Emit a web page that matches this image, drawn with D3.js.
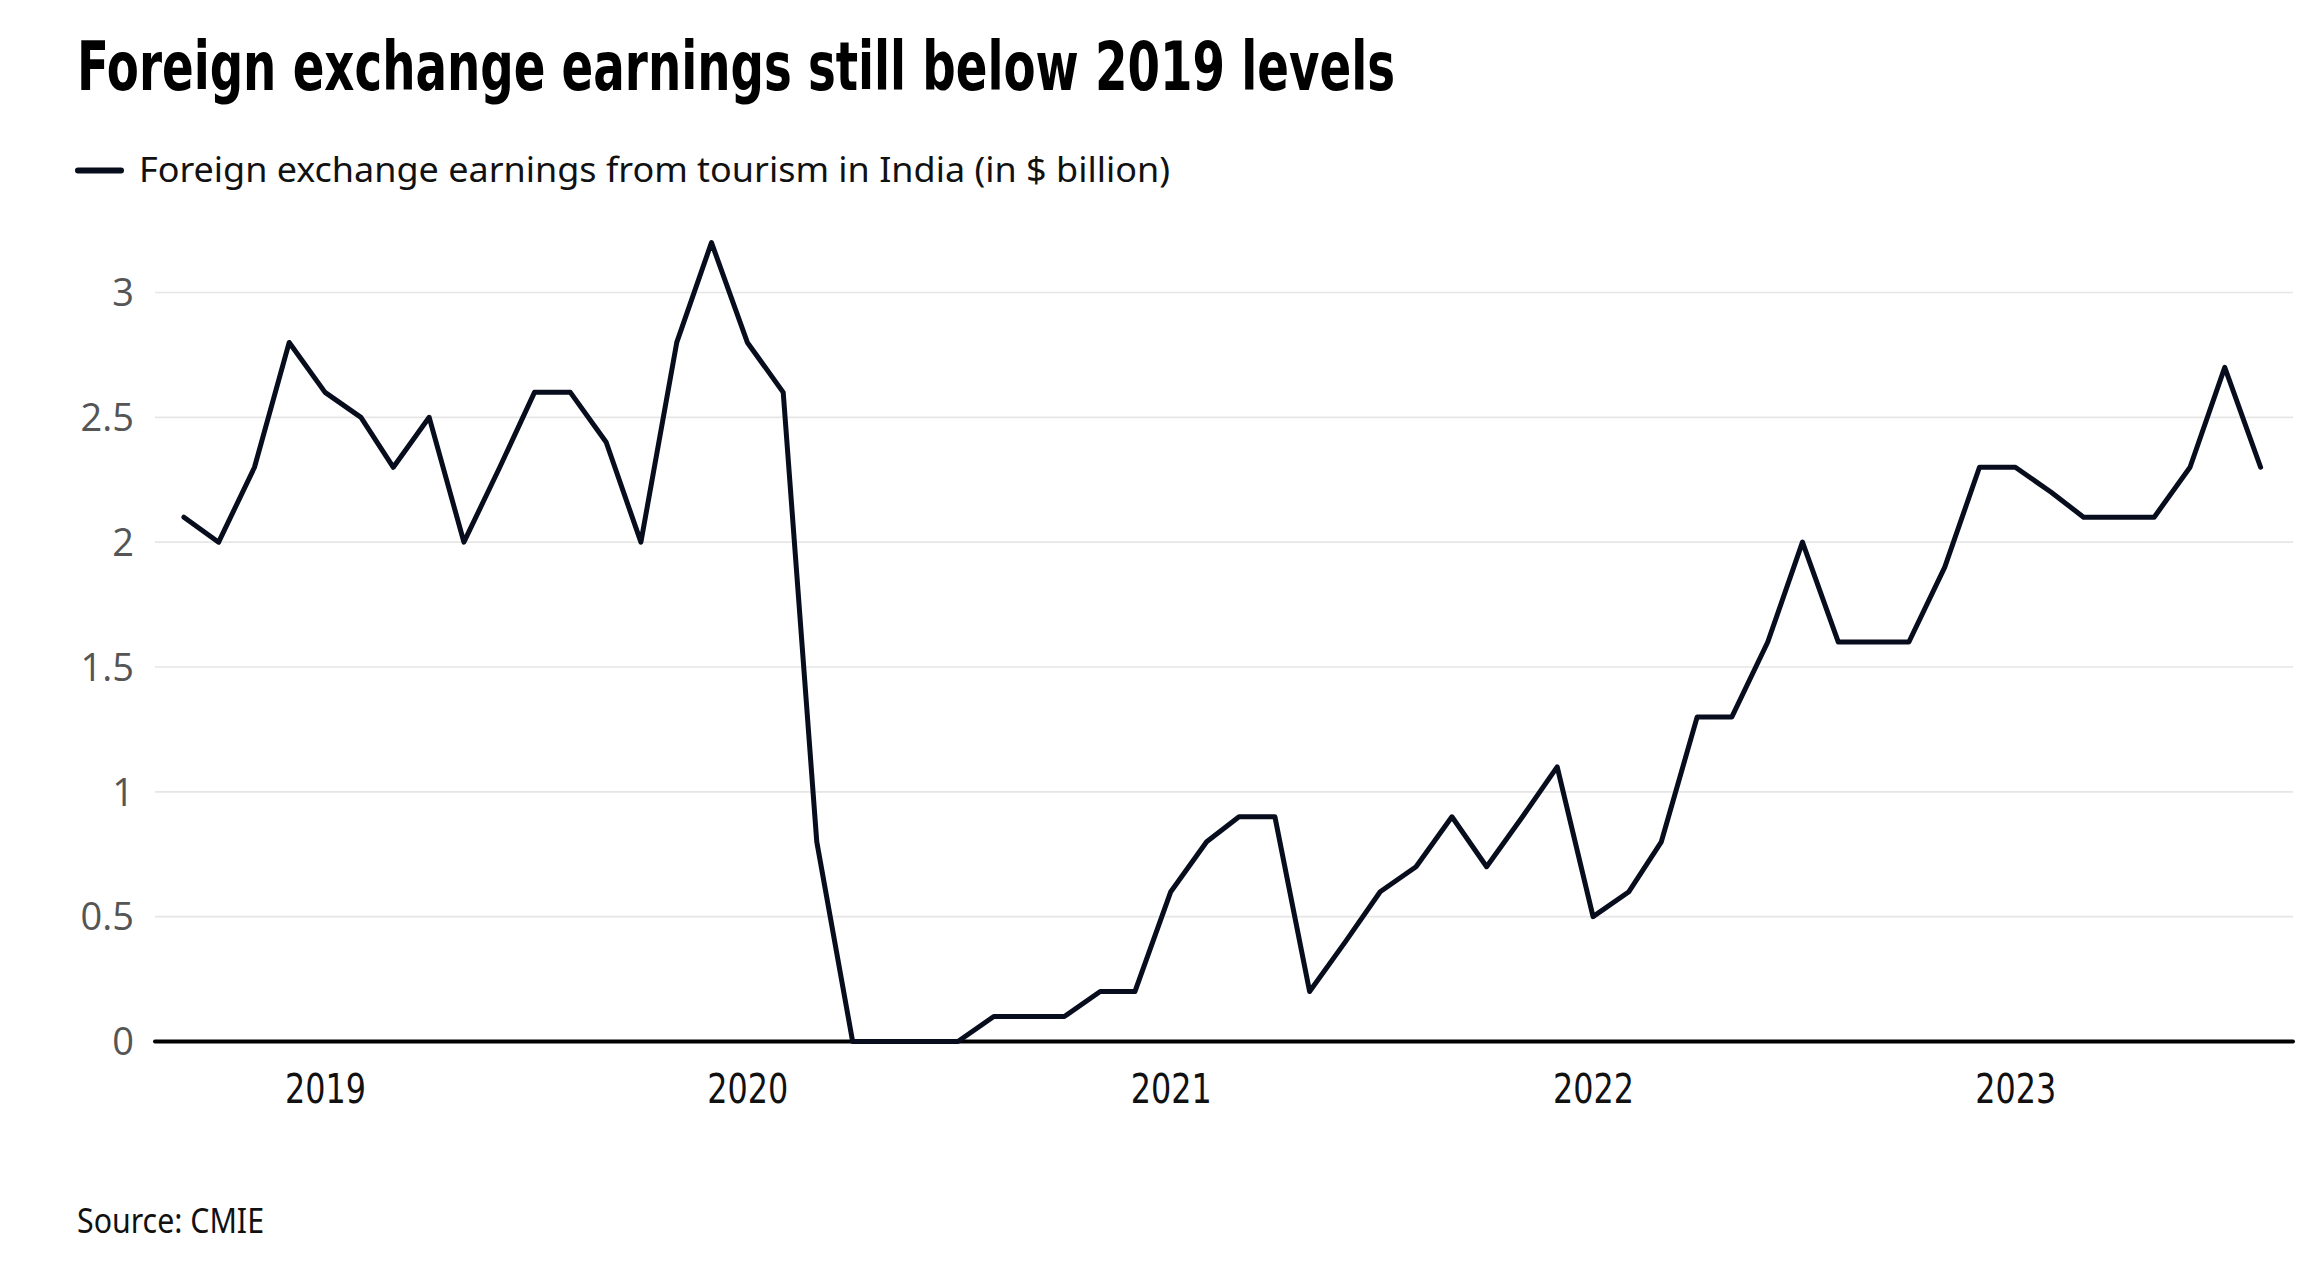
<!DOCTYPE html>
<html>
<head>
<meta charset="utf-8">
<script src="https://cdn.jsdelivr.net/npm/d3@7"></script>
<style>
  html, body { margin: 0; padding: 0; background: #ffffff; }
  svg { display: block; }
</style>
</head>
<body>
<svg id="chart" width="2308" height="1281"></svg>
<script>
// ---- Data ----
const titleText = "Foreign exchange earnings still below 2019 levels";
const seriesName = "Foreign exchange earnings from tourism in India (in $ billion)";
const sourceText = "Source: CMIE";
const startMonth = "2018-09"; // first monthly observation
const earnings = [
  2.1, 2.0, 2.3, 2.8,                                              // Sep-Dec 2018
  2.6, 2.5, 2.3, 2.5, 2.0, 2.3, 2.6, 2.6, 2.4, 2.0, 2.8, 3.2,      // 2019
  2.8, 2.6, 0.8, 0.0, 0.0, 0.0, 0.0, 0.1, 0.1, 0.1, 0.2, 0.2,      // 2020
  0.6, 0.8, 0.9, 0.9, 0.2, 0.4, 0.6, 0.7, 0.9, 0.7, 0.9, 1.1,      // 2021
  0.5, 0.6, 0.8, 1.3, 1.3, 1.6, 2.0, 1.6, 1.6, 1.6, 1.9, 2.3,      // 2022
  2.3, 2.2, 2.1, 2.1, 2.1, 2.3, 2.7, 2.3                           // Jan-Aug 2023
];
const yTicks = [0, 0.5, 1, 1.5, 2, 2.5, 3];
const xTickYears = [2019, 2020, 2021, 2022, 2023];

// ---- Build ----
const parseMonth = d3.utcParse("%Y-%m");
const start = parseMonth(startMonth);
const data = earnings.map((v, i) => ({ date: d3.utcMonth.offset(start, i), value: v }));

const svg = d3.select("#chart");
const lineColor = "#070d1c";

const x = d3.scaleUtc()
  .domain([new Date(Date.UTC(2018, 7, 7)), new Date(Date.UTC(2023, 7, 29))])
  .range([155, 2293]);
const y = d3.scaleLinear().domain([0, 3]).range([1041.5, 292.5]);

// Title
svg.append("text")
  .attr("x", 77).attr("y", 90)
  .attr("font-family", "'Liberation Sans Narrow', 'DejaVu Sans Condensed', sans-serif")
  .attr("font-weight", 700)
  .attr("font-size", 67)
  .attr("fill", "#000")
  .attr("textLength", 1318)
  .attr("lengthAdjust", "spacingAndGlyphs")
  .text(titleText);

// Legend
svg.append("line")
  .attr("x1", 78).attr("x2", 121)
  .attr("y1", 170.5).attr("y2", 170.5)
  .attr("stroke", lineColor).attr("stroke-width", 6)
  .attr("stroke-linecap", "round");
svg.append("text")
  .attr("x", 139).attr("y", 182)
  .attr("font-family", "'Noto Sans', 'Open Sans', sans-serif")
  .attr("font-size", 34)
  .attr("fill", "#111")
  .attr("textLength", 1031)
  .attr("lengthAdjust", "spacingAndGlyphs")
  .text(seriesName);

// Gridlines + y labels
const yAxis = d3.axisLeft(y).tickValues(yTicks).tickSize(0).tickPadding(0)
  .tickFormat(d => d3.format("")(d));
const gy = svg.append("g").attr("transform", "translate(134,0)").call(yAxis);
gy.select(".domain").remove();
gy.selectAll("text")
  .attr("font-family", "'Open Sans', 'Noto Sans', sans-serif")
  .attr("font-size", 38)
  .attr("fill", "#555555")
  .attr("dy", "0.35em");

svg.append("g").selectAll("line")
  .data(yTicks.filter(t => t !== 0))
  .join("line")
  .attr("x1", 155).attr("x2", 2293)
  .attr("y1", d => y(d)).attr("y2", d => y(d))
  .attr("stroke", "#e6e6e6").attr("stroke-width", 1.6);

// X axis baseline + labels
const xAxis = d3.axisBottom(x)
  .tickValues(xTickYears.map(yr => new Date(Date.UTC(yr, 0, 1))))
  .tickSize(0).tickPadding(0)
  .tickFormat(d3.utcFormat("%Y"));
const gx = svg.append("g").attr("transform", `translate(0,${y(0)})`).call(xAxis);
gx.select(".domain").remove();
gx.selectAll("text")
  .attr("font-family", "'Liberation Sans Narrow', 'DejaVu Sans Condensed', sans-serif")
  .attr("font-size", 41)
  .attr("fill", "#111")
  .attr("dy", 0)
  .attr("y", 61)
  .attr("textLength", 81)
  .attr("lengthAdjust", "spacingAndGlyphs");

svg.append("line")
  .attr("x1", 155).attr("x2", 2293)
  .attr("y1", y(0)).attr("y2", y(0))
  .attr("stroke", "#000").attr("stroke-width", 4)
  .attr("stroke-linecap", "round");

// Line
const line = d3.line().x(d => x(d.date)).y(d => y(d.value));
svg.append("path")
  .datum(data)
  .attr("d", line)
  .attr("fill", "none")
  .attr("stroke", lineColor)
  .attr("stroke-width", 5)
  .attr("stroke-linejoin", "round")
  .attr("stroke-linecap", "round");

// Source
svg.append("text")
  .attr("x", 77).attr("y", 1233)
  .attr("font-family", "'Noto Sans', 'Open Sans', sans-serif")
  .attr("font-size", 34)
  .attr("fill", "#111")
  .attr("textLength", 187)
  .attr("lengthAdjust", "spacingAndGlyphs")
  .text(sourceText);
</script>
</body>
</html>
